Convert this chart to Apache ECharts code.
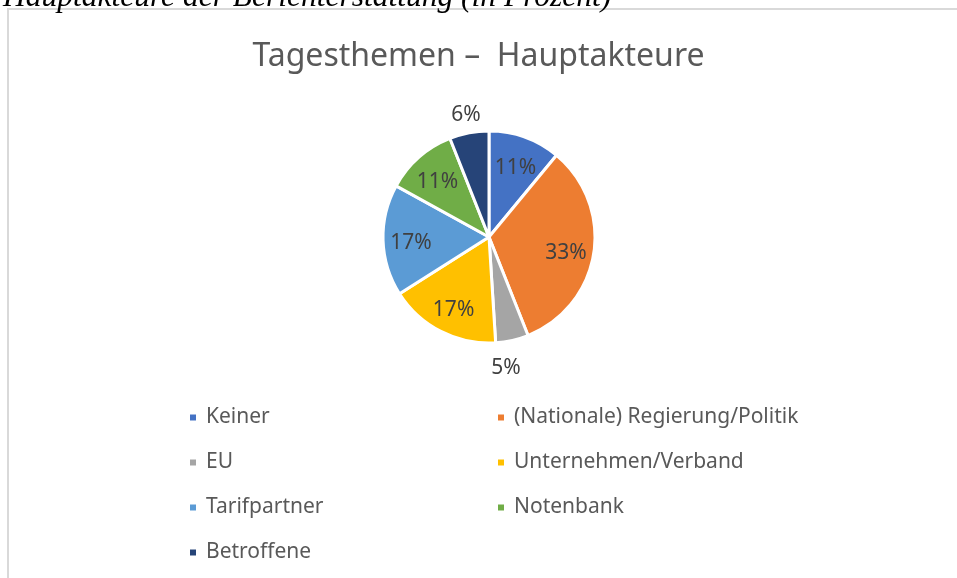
<!DOCTYPE html>
<html>
<head>
<meta charset="utf-8">
<script src="https://cdn.jsdelivr.net/npm/echarts@6/dist/echarts.min.js"></script>
<style>
  html, body { margin: 0; padding: 0; background: #fff; }
  #chart { width: 957px; height: 578px; }
</style>
</head>
<body>
<div id="chart"></div>
<script>
// Anteile der Hauptakteure (Prozent), im Uhrzeigersinn ab 12 Uhr
const names = ['Keiner', '(Nationale) Regierung/Politik', 'EU', 'Unternehmen/Verband', 'Tarifpartner', 'Notenbank', 'Betroffene']
const values = [11, 33, 5, 17, 17, 11, 6]
const colors = ['#4472C4', '#ED7D31', '#A5A5A5', '#FFC000', '#5B9BD5', '#70AD47', '#264478']
// Kleine Segmente bekommen ihre Beschriftung außerhalb
const outsideLabel = [false, false, true, false, false, false, true]

const legendLeft = ['Keiner', 'EU', 'Tarifpartner', 'Betroffene']
const legendRight = ['(Nationale) Regierung/Politik', 'Unternehmen/Verband', 'Notenbank']

const chart = echarts.init(document.getElementById('chart'))

const font = 'Noto Sans'
const center = [489, 237]
const R = 106

const pieData = names.map((n, i) => ({ name: n, value: values[i], itemStyle: { color: colors[i] } }))

const legendBase = {
  orient: 'vertical',
  top: 402,
  icon: 'rect',
  itemWidth: 8,
  itemHeight: 8,
  itemGap: 24,
  textStyle: { color: '#595959', fontFamily: font, fontSize: 21, lineHeight: 20, padding: [0, 0, 0, 4] }
}

const labelStyle = { formatter: '{c}%', color: '#404040', fontFamily: font, fontSize: 21 }

chart.setOption({
  animation: false,
  graphic: [
    // Rahmen des Diagrammbereichs
    { type: 'rect', shape: { x: 8, y: 9, width: 960, height: 580 }, style: { fill: 'none', stroke: '#d9d9d9', lineWidth: 2 }, silent: true },
    // abgeschnittene Bildunterschrift aus dem Dokument
    { type: 'text', left: 3, top: -18, style: { text: 'Hauptakteure der Berichterstattung (in Prozent)', font: 'italic 31.5px "Liberation Serif"', fill: '#000' } }
  ],
  title: {
    text: 'Tagesthemen –  Hauptakteure',
    left: 'center',
    top: 36,
    textStyle: { color: '#595959', fontFamily: font, fontSize: 32, fontWeight: 'normal' }
  },
  legend: [
    Object.assign({ left: 183, data: legendLeft }, legendBase),
    Object.assign({ left: 491, data: legendRight }, legendBase)
  ],
  series: [
    {
      type: 'pie',
      center: center,
      radius: [0, R],
      startAngle: 90,
      clockwise: true,
      data: pieData,
      itemStyle: { borderColor: '#fff', borderWidth: 3 },
      label: { show: false },
      labelLine: { show: false },
      emphasis: { disabled: true }
    },
    // transparente Hilfsringe, nur für die Position der Beschriftungen
    {
      type: 'pie',
      center: center,
      radius: [44, R],
      startAngle: 90,
      clockwise: true,
      silent: true,
      legendHoverLink: false,
      data: names.map((n, i) => ({
        name: n, value: values[i],
        label: { show: !outsideLabel[i] }
      })),
      itemStyle: { color: 'rgba(0,0,0,0)' },
      label: Object.assign({ position: 'inside', offset: [0, 4] }, labelStyle),
      labelLine: { show: false },
      emphasis: { disabled: true }
    },
    {
      type: 'pie',
      center: center,
      radius: [R, 154],
      startAngle: 90,
      clockwise: true,
      silent: true,
      legendHoverLink: false,
      data: names.map((n, i) => ({
        name: n, value: values[i],
        label: { show: outsideLabel[i], offset: n === 'EU' ? [-12, 1] : [2, 9] }
      })),
      itemStyle: { color: 'rgba(0,0,0,0)' },
      label: Object.assign({ position: 'inside' }, labelStyle),
      labelLine: { show: false },
      emphasis: { disabled: true }
    }
  ]
})
</script>
</body>
</html>
